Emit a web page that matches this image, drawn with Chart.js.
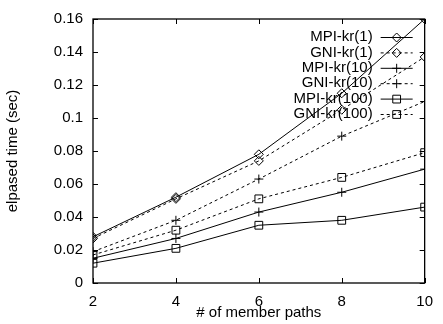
<!DOCTYPE html>
<html>
<head>
<meta charset="utf-8">
<script src="https://cdn.jsdelivr.net/npm/chart.js@4"></script>
<style>
  html, body { margin: 0; padding: 0; background: #fff; }
  #wrap { width: 443px; height: 324px; }
</style>
</head>
<body>
<div id="wrap"><canvas id="chart" width="443" height="324"></canvas></div>
<script>
// data
const memberPaths = [2, 4, 6, 8, 10];
const mpiKr1   = [0.028, 0.052, 0.078, 0.115, 0.160];
const gniKr1   = [0.027, 0.051, 0.074, 0.105, 0.137];
const mpiKr10  = [0.015, 0.027, 0.043, 0.055, 0.069];
const gniKr10  = [0.019, 0.038, 0.063, 0.089, 0.110];
const mpiKr100 = [0.012, 0.021, 0.035, 0.038, 0.046];
const gniKr100 = [0.017, 0.032, 0.051, 0.064, 0.079];
const seriesNames = ['MPI-kr(1)', 'GNI-kr(1)', 'MPI-kr(10)', 'GNI-kr(10)', 'MPI-kr(100)', 'GNI-kr(100)'];
const yTickLabels = ['0', '0.02', '0.04', '0.06', '0.08', '0.1', '0.12', '0.14', '0.16'];

const FONT = '"Liberation Sans", Arial, Helvetica, sans-serif';
const FSIZE = 15;

function pts(values) {
  return values.map((v, i) => ({ x: memberPaths[i], y: v }));
}

function series(label, values, dashed, marker, radius) {
  return {
    label: label,
    data: pts(values),
    borderColor: '#000',
    borderWidth: 1,
    borderDash: dashed ? [3, 3] : [],
    pointStyle: marker,
    pointRadius: radius,
    pointBorderColor: '#000',
    pointBackgroundColor: 'rgba(0,0,0,0)',
    pointBorderWidth: 1,
    fill: false,
    tension: 0
  };
}

// frame with inward ticks, like the original plot
const framePlugin = {
  id: 'frame',
  afterDatasetsDraw(chart) {
    const { ctx, chartArea: a, scales } = chart;
    ctx.save();
    ctx.strokeStyle = '#000';
    ctx.lineWidth = 1.3;
    ctx.strokeRect(a.left, a.top, a.right - a.left, a.bottom - a.top);
    ctx.lineWidth = 1;
    const len = 5;
    ctx.beginPath();
    scales.y.ticks.forEach(t => {
      const py = Math.round(scales.y.getPixelForValue(t.value)) + 0.5;
      ctx.moveTo(a.left, py); ctx.lineTo(a.left + len, py);
      ctx.moveTo(a.right, py); ctx.lineTo(a.right - len, py);
    });
    scales.x.ticks.forEach(t => {
      const px = Math.round(scales.x.getPixelForValue(t.value)) + 0.5;
      ctx.moveTo(px, a.bottom); ctx.lineTo(px, a.bottom - len);
      ctx.moveTo(px, a.top); ctx.lineTo(px, a.top + len);
    });
    ctx.stroke();
    ctx.restore();
  }
};

// legend inside the plot: right aligned text, then line sample with marker
const keyPlugin = {
  id: 'key',
  afterDraw(chart) {
    const { ctx, chartArea: a } = chart;
    ctx.save();
    ctx.font = FSIZE + 'px ' + FONT;
    ctx.textAlign = 'right';
    ctx.textBaseline = 'middle';
    chart.data.datasets.forEach((ds, i) => {
      const y = a.top + 18 + i * 15.4;
      const x0 = a.right - 44, x1 = a.right - 12;
      ctx.fillStyle = '#000';
      ctx.fillText(ds.label, a.right - 52, y);
      ctx.strokeStyle = '#000';
      ctx.lineWidth = 1;
      ctx.setLineDash(ds.borderDash);
      ctx.beginPath();
      ctx.moveTo(x0, y + 0.5); ctx.lineTo(x1, y + 0.5);
      ctx.stroke();
      ctx.setLineDash([]);
      ctx.fillStyle = 'rgba(0,0,0,0)';
      Chart.helpers.drawPoint(ctx, {
        pointStyle: ds.pointStyle, radius: ds.pointRadius, rotation: 0, borderWidth: 1
      }, (x0 + x1) / 2, y + 0.5);
    });
    ctx.restore();
  }
};

new Chart(document.getElementById('chart'), {
  type: 'line',
  data: {
    datasets: [
      series(seriesNames[0], mpiKr1, false, 'rectRot', 4.5),
      series(seriesNames[1], gniKr1, true, 'rectRot', 4.5),
      series(seriesNames[2], mpiKr10, false, 'cross', 4.5),
      series(seriesNames[3], gniKr10, true, 'cross', 4.5),
      series(seriesNames[4], mpiKr100, false, 'rect', 5.5),
      series(seriesNames[5], gniKr100, true, 'rect', 5.5)
    ]
  },
  options: {
    responsive: false,
    animation: false,
    layout: { padding: { top: 14, right: 11, left: 0, bottom: 0 } },
    plugins: { legend: { display: false }, tooltip: { enabled: false } },
    scales: {
      x: {
        type: 'linear',
        min: 2, max: 10,
        grid: { display: false, drawTicks: false },
        border: { display: false },
        ticks: { stepSize: 2, color: '#000', padding: 10, font: { family: FONT, size: FSIZE } },
        title: { display: true, text: '# of member paths', color: '#000', padding: { top: 0, bottom: 2 }, font: { family: FONT, size: FSIZE } },
        afterFit(s) { s.height = 41; }
      },
      y: {
        min: 0, max: 0.16,
        grid: { display: false, drawTicks: false },
        border: { display: false },
        ticks: {
          stepSize: 0.02, color: '#000', padding: 10,
          font: { family: FONT, size: FSIZE },
          callback: (v, i) => yTickLabels[i]
        },
        title: { display: true, text: 'elpased time (sec)', color: '#000', padding: { top: 4, bottom: 0 }, font: { family: FONT, size: FSIZE } },
        afterFit(s) { s.width = 93; }
      }
    }
  },
  plugins: [framePlugin, keyPlugin]
});
</script>
</body>
</html>
